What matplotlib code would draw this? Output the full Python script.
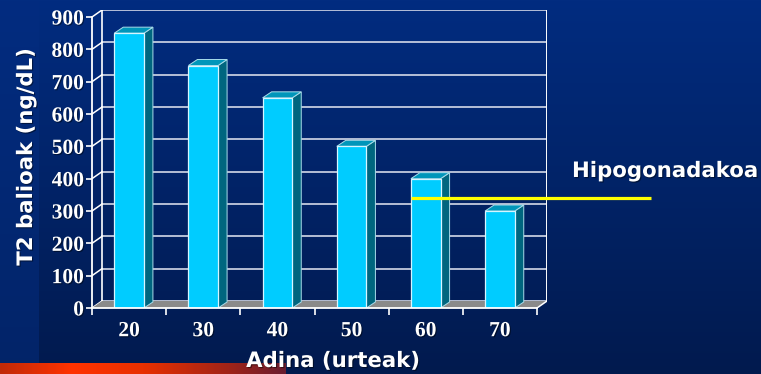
import numpy as np
import matplotlib
matplotlib.use("Agg")
import matplotlib.pyplot as plt
import matplotlib.patheffects as pe
from matplotlib.patches import Polygon
from matplotlib.colors import to_rgb

# ---- data ----
ages = [20, 30, 40, 50, 60, 70]
t_values = [850, 750, 650, 500, 400, 300]
y_ticks = list(range(0, 1000, 100))
hypo_level = 340
hypo_label = "Hipogonadakoa"
x_title = "Adina (urteak)"
y_title = "T2 balioak (ng/dL)"

# ---- canvas ----
W, H, DPI = 761, 374, 100
fig = plt.figure(figsize=(W / DPI, H / DPI), dpi=DPI)

# slide background: vertical blue gradient, lighter left strip, orange band
bg = fig.add_axes([0, 0, 1, 1], zorder=-10)
bg.set_axis_off()
t = np.linspace(0, 1, H)[:, None, None]
top_c, bot_c = np.array(to_rgb("#022c80")), np.array(to_rgb("#011a4e"))
img = np.repeat(top_c * (1 - t) + bot_c * t, W, axis=1)
s_top, s_bot = np.array(to_rgb("#022c80")), np.array(to_rgb("#022468"))
img[:, :39] = (s_top * (1 - t) + s_bot * t)[:, 0][:, None, :]
band_x = np.linspace(0, 1, 286)
stops = [0.0, 0.25, 0.5, 0.8, 1.0]
cols = [to_rgb(c) for c in ["#c02a08", "#ff3300", "#e83000", "#a02418", "#6a1c30"]]
band = np.stack([np.interp(band_x, stops, [c[k] for c in cols]) for k in range(3)], axis=1)
img[363:, :286] = band[None, :, :]
bg.imshow(img, extent=(0, W, 0, H), origin="upper", aspect="auto", interpolation="bilinear")
bg.set_xlim(0, W)
bg.set_ylim(0, H)

# ---- 3-D style column chart ----
n = len(ages)
ymax = y_ticks[-1]
cat_px = (537 - 92) / n          # pixels per category
val_px = (308 - 17) / ymax       # pixels per value unit
wall_dx, wall_dy = 10, 7         # depth offset of back wall (px)
bar_dx, bar_dy = 9, 6            # depth offset of columns (px)
ax_w = n * cat_px + wall_dx
ax_h = ymax * val_px + wall_dy
ax = fig.add_axes([92 / W, (H - 308) / H, ax_w / W, ax_h / H])
ax.set_xlim(0, ax_w / cat_px)
ax.set_ylim(0, ax_h / val_px)
ax.patch.set_alpha(0)

wdx, wdy = wall_dx / cat_px, wall_dy / val_px
bdx, bdy = bar_dx / cat_px, bar_dy / val_px
grid_c = "#d4d9e8"

# back wall gridlines and side-wall diagonals
for v in y_ticks:
    ax.plot([wdx, n + wdx], [v + wdy, v + wdy], color=grid_c, lw=1.2, zorder=1)
    ax.plot([0, wdx], [v, v + wdy], color="white", lw=1.1, zorder=1)
ax.plot([wdx, wdx], [wdy, ymax + wdy], color="white", lw=1.2, zorder=1)
ax.plot([n + wdx, n + wdx], [wdy, ymax + wdy], color="white", lw=1.4, zorder=1)

# floor
ax.add_patch(Polygon([(0, 0), (n, 0), (n + wdx, wdy), (wdx, wdy)],
                     closed=True, facecolor="#8a8a8a", edgecolor="none", zorder=2))
ax.plot([n, n + wdx], [0, wdy], color="white", lw=1.1, zorder=2)

# columns: side, top and front faces
x_c = np.arange(n) + 0.5
bw = 0.4
for xc, v in zip(x_c, t_values):
    x0, x1 = xc - bw / 2, xc + bw / 2
    ax.add_patch(Polygon([(x1, 0), (x1, v), (x1 + bdx, v + bdy), (x1 + bdx, bdy)],
                         closed=True, facecolor="#00667f", edgecolor="#a9dcea",
                         lw=0.7, zorder=4))
    ax.add_patch(Polygon([(x0, v), (x1, v), (x1 + bdx, v + bdy), (x0 + bdx, v + bdy)],
                         closed=True, facecolor="#0096ba", edgecolor="#a9dcea",
                         lw=0.7, zorder=4))
ax.bar(x_c, t_values, width=bw, color="#00ccff", edgecolor="#d6f5ff", lw=0.9, zorder=5)

# axes lines and ticks
for side in ("top", "right"):
    ax.spines[side].set_visible(False)
ax.spines["left"].set_bounds(0, ymax)
ax.spines["bottom"].set_bounds(0, n)
for side in ("left", "bottom"):
    ax.spines[side].set_color("white")
    ax.spines[side].set_linewidth(1.3)
    ax.spines[side].set_zorder(6)

shadow = [pe.SimplePatchShadow(offset=(0.8, -0.8), shadow_rgbFace="black", alpha=0.45),
          pe.Normal()]

ax.set_yticks(y_ticks, labels=[str(v) for v in y_ticks])
ax.set_xticks(x_c, labels=[str(a) for a in ages])
ax.set_xticks(np.arange(n + 1), minor=True)
ax.tick_params(axis="y", direction="out", length=4.5, width=1.2, color="white", pad=1.2)
ax.tick_params(axis="x", which="major", length=0, pad=9.5)
ax.tick_params(axis="x", which="minor", direction="out", length=5, width=1.2, color="white")
for lab in ax.get_yticklabels() + ax.get_xticklabels():
    lab.set_fontfamily("Liberation Serif")
    lab.set_fontweight("bold")
    lab.set_fontsize(15.5)
    lab.set_color("white")
    lab.set_path_effects(shadow)

# hypogonadism threshold line
i60 = ages.index(60)
x_start = x_c[i60] - bw / 2
x_end = (651 - 92) / cat_px
ax.plot([x_start, x_end], [hypo_level, hypo_level], color="#ffff00", lw=2.3,
        solid_capstyle="butt", clip_on=False, zorder=10)

# titles
font = dict(family="DejaVu Sans", weight="bold", color="white", fontsize=15.3,
            path_effects=shadow)
fig.text(572 / W, (H - 177) / H, hypo_label, ha="left", va="baseline", **font)
fig.text(333 / W, (H - 367) / H, x_title, ha="center", va="baseline", **font)
fig.text(26 / W, (H - 157) / H, y_title, ha="center", va="center", rotation=90, **font)

fig.savefig("out.png", dpi=DPI)
